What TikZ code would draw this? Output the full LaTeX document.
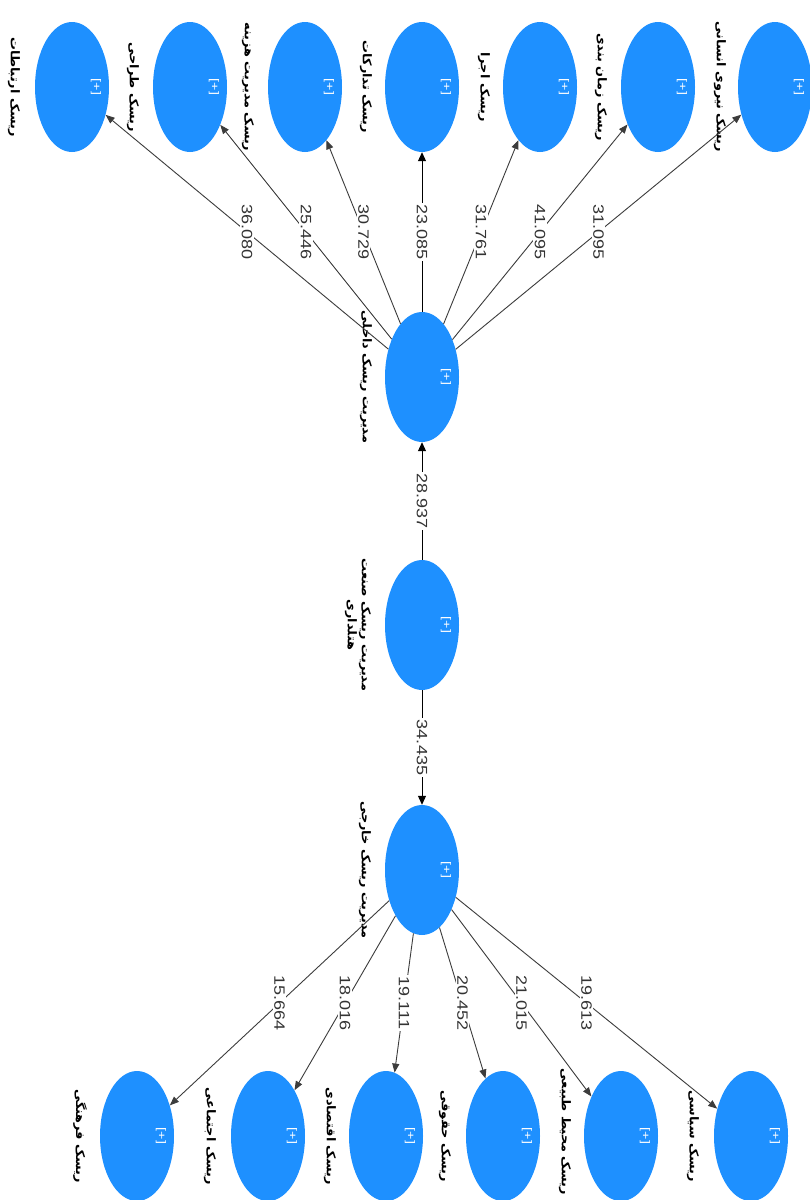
\documentclass[tikz,border=0pt]{standalone}
\usepackage{fontspec}
\setmainfont{Liberation Sans}
\newfontfamily\fa[Script=Arabic]{DejaVu Sans}
\TeXXeTstate=1
\usetikzlibrary{shapes.geometric,arrows.meta,calc}
\definecolor{lvblue}{RGB}{30,144,255}
\definecolor{edgegray}{RGB}{60,60,60}
\begin{document}
\begin{tikzpicture}[x=1pt,y=-1pt,
  lv/.style={ellipse, fill=lvblue, minimum width=74pt, minimum height=130pt, inner sep=0pt},
  pl/.style={text=white, font=\fontsize{11}{12}\selectfont, rotate=-90, xscale=1.3, inner sep=0pt},
  lab/.style={font=\fa\bfseries\fontsize{12}{14}\selectfont, rotate=-90, xscale=1.07, inner sep=0pt, align=center},
  num/.style={font=\fontsize{15}{16}\selectfont, text=black!80, fill=white, rotate=-90, xscale=1.2, inner sep=1.5pt},
  edge/.style={draw=edgegray, line width=0.9pt, -{Triangle[length=9pt,width=7pt]}},
  cedge/.style={draw=black, line width=1pt, -{Triangle[length=9pt,width=8pt]}}
]
\useasboundingbox (0,0) rectangle (810,1200);
\fill[white] (0,0) rectangle (810,1200);

% central constructs
\node[lv] (in) at (422,377) {};
\node[lv] (ho) at (422,625) {};
\node[lv] (ex) at (422,870) {};

% top row
\node[lv] (t1) at (72,87) {};
\node[lv] (t2) at (190,87) {};
\node[lv] (t3) at (305,87) {};
\node[lv] (t4) at (422,87) {};
\node[lv] (t5) at (540,87) {};
\node[lv] (t6) at (658,87) {};
\node[lv] (t7) at (775,87) {};

% bottom row
\node[lv] (b1) at (137,1136) {};
\node[lv] (b2) at (268,1136) {};
\node[lv] (b3) at (386,1136) {};
\node[lv] (b4) at (503,1136) {};
\node[lv] (b5) at (621,1136) {};
\node[lv] (b6) at (751,1136) {};

% [+] markers
\foreach \n in {in,ho,ex,t1,t2,t3,t4,t5,t6,t7,b1,b2,b3,b4,b5,b6}{
  \node[pl] (p\n) at ([xshift=24pt]\n.center) {[+]};
}

% labels
\node[lab] (lt1) at ([xshift=-58pt]t1.center) {\beginR ریسک ارتباطات\endR};
\node[lab] (lt2) at ([xshift=-57pt]t2.center) {\beginR ریسک طراحی\endR};
\node[lab] (lt3) at ([xshift=-57pt]t3.center) {\beginR ریسک مدیریت هزینه\endR};
\node[lab] (lt4) at ([xshift=-56pt]t4.center) {\beginR ریسک تدارکات\endR};
\node[lab] (lt5) at ([xshift=-56pt]t5.center) {\beginR ریسک اجرا\endR};
\node[lab] (lt6) at ([xshift=-57pt]t6.center) {\beginR ریسک زمان بندی\endR};
\node[lab] (lt7) at ([xshift=-55pt]t7.center) {\beginR ریسک نیروی انسانی\endR};

\node[lab] (lb1) at ([xshift=-57pt]b1.center) {\beginR ریسک فرهنگی\endR};
\node[lab] (lb2) at ([xshift=-58pt]b2.center) {\beginR ریسک اجتماعی\endR};
\node[lab] (lb3) at ([xshift=-56pt]b3.center) {\beginR ریسک اقتصادی\endR};
\node[lab] (lb4) at ([xshift=-58pt]b4.center) {\beginR ریسک حقوقی\endR};
\node[lab] (lb5) at ([xshift=-56pt,yshift=4pt]b5.center) {\beginR ریسک محیط طبیعی\endR};
\node[lab] (lb6) at ([xshift=-58pt]b6.center) {\beginR ریسک سیاسی\endR};

\node[lab] (lin) at ([xshift=-56pt]in.center) {\beginR مدیریت ریسک داخلی\endR};
\node[lab] (lho) at ([xshift=-64pt]ho.center) {\beginR مدیریت ریسک صنعت\endR\\\beginR هتلداری\endR};
\node[lab] (lex) at ([xshift=-57pt]ex.center) {\beginR مدیریت ریسک خارجی\endR};

% connectors: internal
\draw[edge] (in) -- (t1) node[num,pos=0.5] {36.080};
\draw[edge] (in) -- (t2) node[num,pos=0.5] {25.446};
\draw[edge] (in) -- (t3) node[num,pos=0.5] {30.729};
\draw[cedge] (in) -- (t4) node[num,pos=0.5] {23.085};
\draw[edge] (in) -- (t5) node[num,pos=0.5] {31.761};
\draw[edge] (in) -- (t6) node[num,pos=0.5] {41.095};
\draw[edge] (in) -- (t7) node[num,pos=0.5] {31.095};

% connectors: external
\draw[edge] (ex) -- (b1) node[num,pos=0.5] {15.664};
\draw[edge] (ex) -- (b2) node[num,pos=0.5] {18.016};
\draw[edge] (ex) -- (b3) node[num,pos=0.5] {19.111};
\draw[edge] (ex) -- (b4) node[num,pos=0.5] {20.452};
\draw[edge] (ex) -- (b5) node[num,pos=0.5] {21.015};
\draw[edge] (ex) -- (b6) node[num,pos=0.5] {19.613};

% connectors: hotel industry
\draw[cedge] (ho) -- (in) node[num,pos=0.5] {28.937};
\draw[cedge] (ho) -- (ex) node[num,pos=0.5] {34.435};
\end{tikzpicture}
\end{document}
